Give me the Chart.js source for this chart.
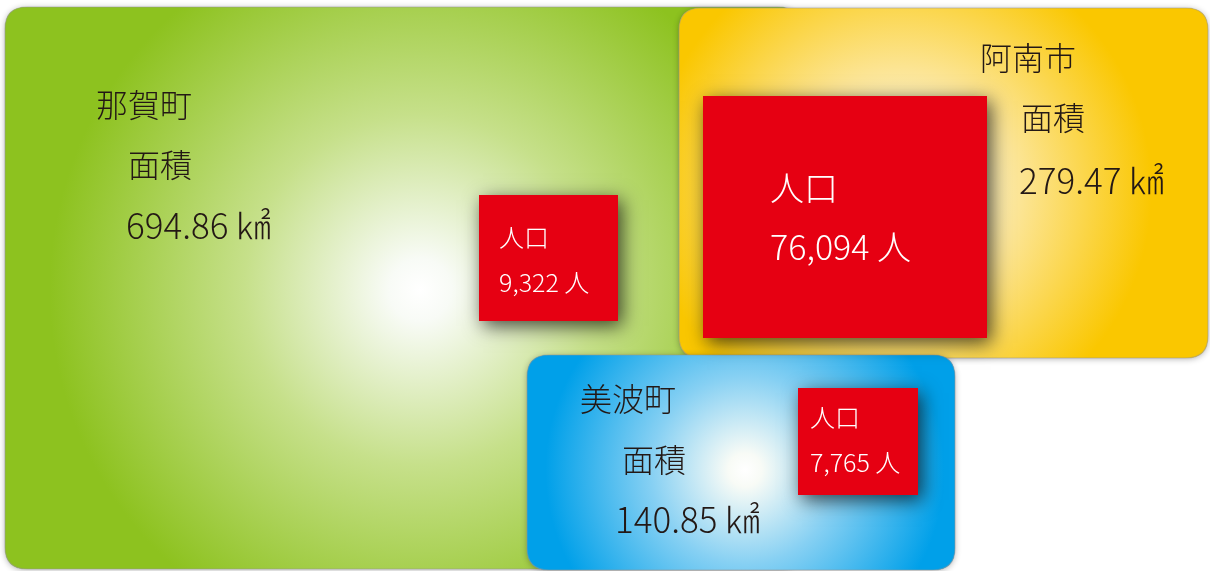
<!DOCTYPE html>
<html lang="ja">
<head>
<meta charset="utf-8">
<title>那賀町・阿南市・美波町 面積と人口</title>
<script src="https://cdn.jsdelivr.net/npm/chart.js@4/dist/chart.umd.min.js"></script>
<style>
  html, body { margin: 0; padding: 0; background: #ffffff; }
  #areaChart { display: block; }
</style>
</head>
<body>
<canvas id="areaChart" width="1210" height="571"></canvas>
<script>
const towns = ['那賀町', '阿南市', '美波町'];
const areaKm2 = [694.86, 279.47, 140.85];
const population = [9322, 76094, 7765];

// block extents in axis units (x to the right, y downward)
const areaLeft = [5, 679, 527];
const areaRight = [800, 1208, 955];
const areaTop = [7, 8, 355];
const areaBottom = [569, 358, 570];

const popLeft = [479, 703, 798];
const popRight = [618, 987, 918];
const popTop = [195, 96, 388];
const popBottom = [321, 338, 495];

// text anchors (left edge, vertical middle)
const nameAt = [[96, 105], [980, 58], [580, 399]];
const areaTitleAt = [[128, 165], [1021, 118], [622, 460]];
const areaValueAt = [[126, 226], [1019, 181], [615, 520]];
const popTitleAt = [[499, 237], [770, 188], [810, 417]];
const popValueAt = [[499, 282], [770, 247], [810, 462]];
const popFont = [25, 34, 25];

const fills = [
    { edge: '#8dc21f', mid: '#c6e08a', cx: 420, cy: 290, r: 390 },
    { edge: '#fac700', mid: '#fce596', cx: 900, cy: 190, r: 265 },
    { edge: '#00a0e9', mid: '#86d0f3', cx: 745, cy: 470, r: 210 }
];
const fontFamily = '"Noto Sans CJK JP", "Noto Sans", sans-serif';

function roundRect(ctx, x, y, w, h, r) {
    ctx.beginPath();
    ctx.moveTo(x + r, y);
    ctx.lineTo(x + w - r, y);
    ctx.quadraticCurveTo(x + w, y, x + w, y + r);
    ctx.lineTo(x + w, y + h - r);
    ctx.quadraticCurveTo(x + w, y + h, x + w - r, y + h);
    ctx.lineTo(x + r, y + h);
    ctx.quadraticCurveTo(x, y + h, x, y + h - r);
    ctx.lineTo(x, y + r);
    ctx.quadraticCurveTo(x, y, x + r, y);
    ctx.closePath();
}

const blockPlugin = {
    id: 'blocks',
    beforeDatasetsDraw(chart) {
        const ctx = chart.ctx;
        const xs = chart.scales.x;
        const ys = chart.scales.y;

        for (let i = 0; i < towns.length; i++) {
            const x0 = xs.getPixelForValue(areaLeft[i]);
            const x1 = xs.getPixelForValue(areaRight[i]);
            const y0 = ys.getPixelForValue(areaTop[i]);
            const y1 = ys.getPixelForValue(areaBottom[i]);
            const f = fills[i];
            const cx = xs.getPixelForValue(f.cx);
            const cy = ys.getPixelForValue(f.cy);

            const grad = ctx.createRadialGradient(cx, cy, 0, cx, cy, f.r);
            grad.addColorStop(0, '#ffffff');
            grad.addColorStop(0.08, '#f8fbf6');
            grad.addColorStop(0.45, f.mid);
            grad.addColorStop(0.95, f.edge);
            grad.addColorStop(1, f.edge);

            ctx.save();
            ctx.shadowColor = 'rgba(0, 0, 0, 0.3)';
            ctx.shadowBlur = 6;
            ctx.shadowOffsetY = 1;
            roundRect(ctx, x0, y0, x1 - x0, y1 - y0, 22);
            ctx.fillStyle = f.edge;
            ctx.fill();
            ctx.restore();

            ctx.save();
            roundRect(ctx, x0, y0, x1 - x0, y1 - y0, 22);
            ctx.fillStyle = grad;
            ctx.fill();
            ctx.strokeStyle = 'rgba(150, 150, 150, 0.5)';
            ctx.lineWidth = 1.2;
            ctx.stroke();
            ctx.restore();
        }

        for (let i = 0; i < towns.length; i++) {
            const x0 = xs.getPixelForValue(popLeft[i]);
            const x1 = xs.getPixelForValue(popRight[i]);
            const y0 = ys.getPixelForValue(popTop[i]);
            const y1 = ys.getPixelForValue(popBottom[i]);
            ctx.save();
            ctx.shadowColor = 'rgba(0, 0, 0, 0.7)';
            ctx.shadowBlur = 18;
            ctx.shadowOffsetX = 4;
            ctx.shadowOffsetY = 5;
            ctx.fillStyle = '#e60012';
            ctx.fillRect(x0, y0, x1 - x0, y1 - y0);
            ctx.restore();
        }
    },
    afterDatasetsDraw(chart) {
        const ctx = chart.ctx;
        const xs = chart.scales.x;
        const ys = chart.scales.y;
        const put = (text, at, size, color) => {
            ctx.font = '300 ' + size + 'px ' + fontFamily;
            ctx.fillStyle = color;
            ctx.fillText(text, xs.getPixelForValue(at[0]), ys.getPixelForValue(at[1]));
        };

        ctx.save();
        ctx.textAlign = 'left';
        ctx.textBaseline = 'middle';
        for (let i = 0; i < towns.length; i++) {
            put(towns[i], nameAt[i], 32, '#231815');
            put('面積', areaTitleAt[i], 32, '#231815');
            put(areaKm2[i].toFixed(2) + ' ㎢', areaValueAt[i], 35, '#231815');
            put('人口', popTitleAt[i], popFont[i], '#ffffff');
            put(population[i].toLocaleString('en-US') + ' 人', popValueAt[i], popFont[i], '#ffffff');
        }
        ctx.restore();
    }
};

const chart = new Chart(document.getElementById('areaChart'), {
    type: 'scatter',
    data: {
        labels: towns,
        datasets: [{
            label: '面積',
            data: towns.map((t, i) => ({ x: (areaLeft[i] + areaRight[i]) / 2, y: (areaTop[i] + areaBottom[i]) / 2 })),
            pointRadius: 0,
            pointHoverRadius: 0
        }]
    },
    options: {
        responsive: false,
        animation: false,
        layout: { padding: 0 },
        plugins: {
            legend: { display: false },
            tooltip: { enabled: false }
        },
        scales: {
            x: { type: 'linear', min: 0, max: 1210, display: false },
            y: { type: 'linear', min: 0, max: 571, reverse: true, display: false }
        }
    },
    plugins: [blockPlugin]
});
</script>
</body>
</html>
